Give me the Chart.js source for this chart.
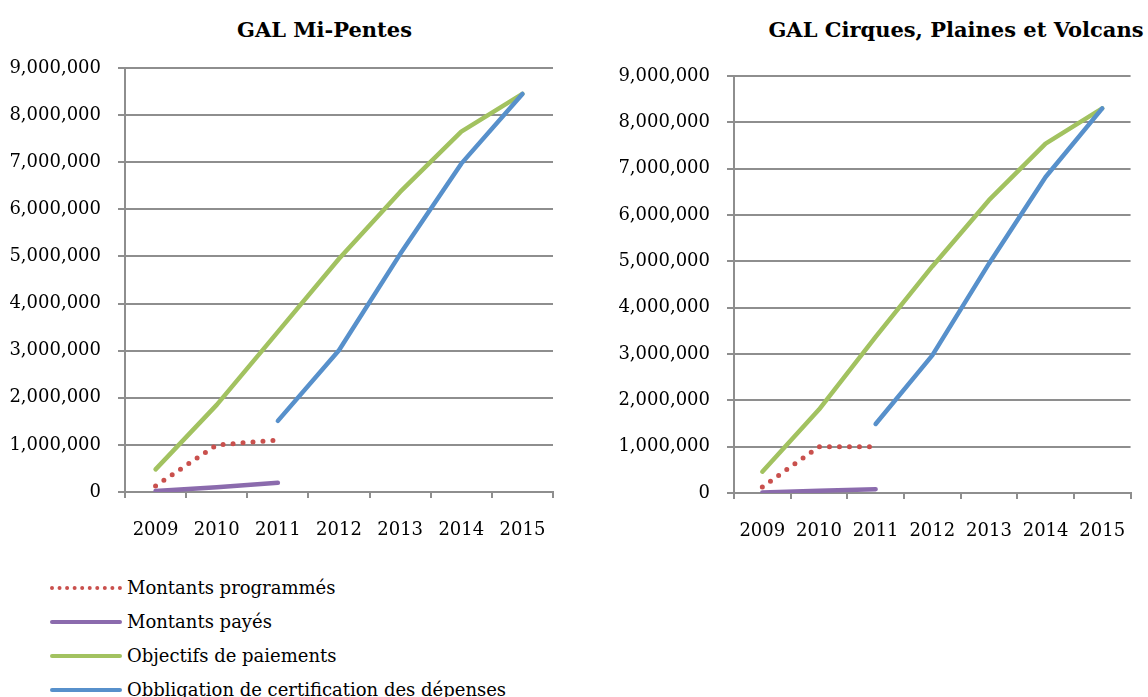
<!DOCTYPE html>
<html>
<head>
<meta charset="utf-8">
<script src="https://cdn.jsdelivr.net/npm/chart.js@4.4.1/dist/chart.umd.min.js"></script>
<style>
  body { margin: 0; width: 1148px; height: 697px; overflow: hidden; background: #fff; font-family: 'DejaVu Serif', serif; }
  canvas { position: absolute; top: 0; }
  #leftChart { left: 0; }
  #rightChart { left: 609px; }
  .title { position: absolute; top: 18px; font-weight: bold; font-size: 21px; line-height: 24px; text-align: center; white-space: nowrap; color: #000; }
  #leftTitle { left: 0; width: 649px; }
  #rightTitle { left: 766px; width: 380px; }
  #legend { position: absolute; left: 50px; top: 571px; font-size: 18px; line-height: 34px; color: #000; }
  .item { display: flex; align-items: center; height: 34px; }
  .sample { width: 72px; height: 0; margin-right: 5px; border-top: 4px solid; border-radius: 2px; }
  .sample.dotted { border-top-style: dotted; border-radius: 0; }
</style>
</head>
<body>
<div class="title" id="leftTitle">GAL Mi-Pentes</div>
<div class="title" id="rightTitle">GAL Cirques, Plaines et Volcans</div>
<canvas id="leftChart" width="600" height="560"></canvas>
<canvas id="rightChart" width="539" height="560"></canvas>
<div id="legend"></div>
<script>
const years = ['2009', '2010', '2011', '2012', '2013', '2014', '2015'];
const seriesNames = ['Montants programmés', 'Montants payés', 'Objectifs de paiements', 'Obbligation de certification des dépenses'];
const seriesColors = ['#C9504D', '#8B6BAD', '#A2C260', '#5790CB'];

// GAL Mi-Pentes
const miProgrammes = [130000, 1000000, 1100000, null, null, null, null];
const miPayes = [20000, 100000, 195000, null, null, null, null];
const miObjectifs = [480000, 1850000, 3400000, 4950000, 6370000, 7650000, 8450000];
const miObligation = [null, null, 1510000, 3010000, 5050000, 6970000, 8450000];

// GAL Cirques, Plaines et Volcans
const cpvProgrammes = [130000, 1000000, 1000000, null, null, null, null];
const cpvPayes = [10000, 50000, 80000, null, null, null, null];
const cpvObjectifs = [460000, 1800000, 3370000, 4890000, 6320000, 7540000, 8300000];
const cpvObligation = [null, null, 1490000, 2970000, 4950000, 6820000, 8300000];

const gridColor = '#8E8E8E';
const tickFont = { family: 'DejaVu Serif', size: 18 };

function makeDatasets(series) {
  return series.map((data, i) => ({
    label: seriesNames[i],
    data: data,
    borderColor: seriesColors[i],
    backgroundColor: seriesColors[i],
    borderWidth: i === 0 ? 5 : 4.5,
    borderDash: i === 0 ? [0, 10] : [],
    borderCapStyle: 'round',
    borderJoinStyle: 'round',
    pointRadius: 0,
    tension: 0,
    order: 3 - i
  }));
}

function makeChart(id, series, padding) {
  return new Chart(document.getElementById(id), {
    type: 'line',
    data: { labels: years, datasets: makeDatasets(series) },
    options: {
      responsive: false,
      animation: false,
      devicePixelRatio: 1,
      layout: { padding: padding },
      plugins: { legend: { display: false }, tooltip: { enabled: false }, title: { display: false } },
      scales: {
        x: {
          offset: true,
          grid: { offset: true, drawOnChartArea: false, drawTicks: true, tickLength: 6, color: gridColor, lineWidth: 2 },
          border: { display: true, color: gridColor, width: 2 },
          ticks: { font: tickFont, color: '#000', padding: 22, maxRotation: 0, autoSkip: false },
          afterFit: (scale) => { scale.height = 48; }
        },
        y: {
          min: 0,
          max: 9000000,
          grid: { color: gridColor, lineWidth: 2, tickLength: 7, drawTicks: true },
          border: { display: true, color: gridColor, width: 2 },
          ticks: {
            stepSize: 1000000,
            font: tickFont,
            color: '#000',
            padding: 17,
            callback: (v) => v.toLocaleString('en-US')
          },
          afterFit: (scale) => { scale.width = 125; }
        }
      }
    }
  });
}

makeChart('leftChart', [miProgrammes, miPayes, miObjectifs, miObligation], { top: 68, right: 47, bottom: 20, left: 0 });
makeChart('rightChart', [cpvProgrammes, cpvPayes, cpvObjectifs, cpvObligation], { top: 76, right: 12, bottom: 19, left: 0 });

const legend = document.getElementById('legend');
seriesNames.forEach((name, i) => {
  const row = document.createElement('div');
  row.className = 'item';
  const sample = document.createElement('span');
  sample.className = 'sample' + (i === 0 ? ' dotted' : '');
  sample.style.borderTopColor = seriesColors[i];
  const text = document.createElement('span');
  text.textContent = name;
  row.appendChild(sample);
  row.appendChild(text);
  legend.appendChild(row);
});
</script>
</body>
</html>
